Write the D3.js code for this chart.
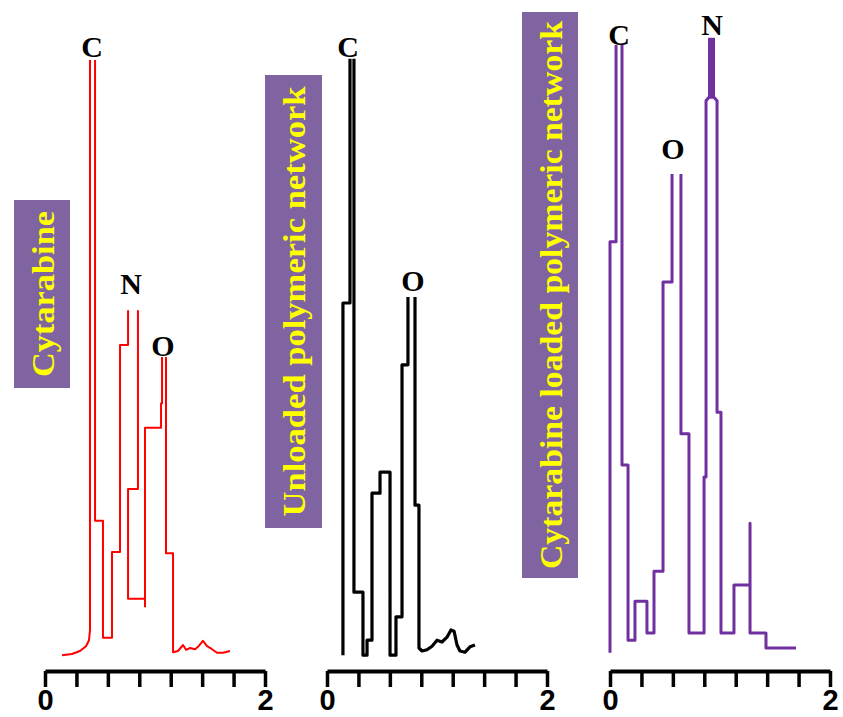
<!DOCTYPE html>
<html>
<head>
<meta charset="utf-8">
<script src="https://cdn.jsdelivr.net/npm/d3@7"></script>
<style>
  body { margin: 0; background: #fff; }
  svg { display: block; }
</style>
</head>
<body>
<svg id="chart" width="843" height="717"></svg>
<script>
// EDS traces: x in keV, y in arbitrary counts (0..100 ~ tallest peak)
// every trace is a list of segments, a new segment wherever the drawn line breaks
const cytarabineTrace = [
  [[0.155, 0.8], [0.245, 1.0], [0.318, 1.5], [0.373, 2.3], [0.4, 3.3], [0.409, 5], [0.409, 100]],
  [[0.455, 100], [0.455, 23.2], [0.527, 23.2], [0.527, 3.7], [0.609, 3.7], [0.609, 18], [0.682, 18],
   [0.682, 52.5], [0.755, 52.5], [0.755, 58.3]],
  [[0.845, 58.3], [0.845, 28.5], [0.755, 28.5], [0.755, 10.2], [0.909, 10.2], [0.909, 8.8]],
  [[0.909, 10.2], [0.909, 38.7], [1.055, 38.7], [1.055, 42.8], [1.064, 42.8], [1.064, 50.5]],
  [[1.1, 50.5], [1.1, 17.8], [1.164, 17.8], [1.164, 1.3], [1.209, 1.5], [1.255, 2.5], [1.282, 1.7],
   [1.318, 2.0], [1.364, 1.8], [1.391, 2.2], [1.436, 3.2], [1.473, 2.3], [1.518, 1.8], [1.564, 1.2],
   [1.618, 1.2], [1.682, 1.5]]
];

const unloadedTrace = [
  [[0.145, 0.8], [0.145, 59.5], [0.209, 59.5], [0.209, 100.2]],
  [[0.245, 100.2], [0.245, 11.3], [0.327, 11.3], [0.327, 0.8], [0.364, 0.8], [0.364, 3.3], [0.409, 3.3],
   [0.409, 27.8], [0.482, 27.8], [0.482, 31.3], [0.573, 31.3], [0.573, 0.8], [0.627, 0.8], [0.627, 7.2],
   [0.682, 7.2], [0.682, 49.2], [0.736, 49.2], [0.736, 60.5]],
  [[0.8, 60.5], [0.8, 25.8], [0.836, 25.8], [0.836, 2.0], [0.864, 1.5], [0.909, 1.7], [0.955, 2.3],
   [1.0, 3.3], [1.045, 3.0], [1.091, 3.8], [1.127, 5.0], [1.155, 4.8], [1.182, 2.5], [1.209, 1.5],
   [1.255, 1.3], [1.3, 2.2], [1.345, 2.5]]
];

const loadedTrace = [
  [[0, 1.2], [0, 69.7], [0.055, 69.7], [0.055, 102.5]],
  [[0.109, 102.5], [0.109, 32.5], [0.164, 32.5], [0.164, 3.3], [0.227, 3.3], [0.227, 9.8], [0.336, 9.8],
   [0.336, 4.5], [0.4, 4.5], [0.4, 14.8], [0.482, 14.8], [0.482, 63], [0.564, 63], [0.564, 81]],
  [[0.645, 81], [0.645, 37.7], [0.718, 37.7], [0.718, 4.5], [0.855, 4.5], [0.855, 30.5], [0.873, 30.5],
   [0.873, 93.2], [0.9, 93.8], [0.945, 93.8], [0.973, 93.2], [0.973, 41.3], [1.009, 41.3], [1.009, 4.5],
   [1.127, 4.5], [1.127, 12.5], [1.273, 12.5], [1.273, 22.8], [1.273, 4.5], [1.418, 4.5], [1.418, 2.0],
   [1.691, 2.0]]
];
// the clipped N peak of the loaded network is drawn as a heavy bar
const loadedNCap = [[0.923, 93.8], [0.923, 103.7]];

const cytarabineLabels = [['C', 0.427, 102.2], ['N', 0.782, 62.8], ['O', 1.073, 52.5]];
const unloadedLabels = [['C', 0.191, 102.3], ['O', 0.782, 63.2]];
const loadedLabels = [['C', 0.082, 104.3], ['O', 0.573, 85.3], ['N', 0.927, 106]];

const sampleNames = ['Cytarabine', 'Unloaded polymeric network', 'Cytarabine loaded polymeric network'];
const xDomain = [0, 2];
const tickValues = d3.range(8).map(i => i * 2 / 7);

const panels = [
  { name: sampleNames[0], trace: cytarabineTrace, labels: cytarabineLabels, color: '#ff0000', lineWidth: 2,
    left: 45, box: { x: 14, y: 200, w: 56, h: 188, len: 166 } },
  { name: sampleNames[1], trace: unloadedTrace, labels: unloadedLabels, color: '#000000', lineWidth: 3.2,
    left: 327, box: { x: 265, y: 75, w: 57, h: 453, len: 430 } },
  { name: sampleNames[2], trace: loadedTrace, labels: loadedLabels, color: '#7030a0', lineWidth: 3,
    left: 610, box: { x: 522, y: 12, w: 56, h: 566, len: 548 } }
];

const panelWidth = 220;
const axisY = 671;

const svg = d3.select('#chart');
svg.append('rect').attr('width', 843).attr('height', 717).attr('fill', '#fff');

const y = d3.scaleLinear().domain([0, 100]).range([660, 60]);

panels.forEach((p) => {
  const x = d3.scaleLinear().domain(xDomain).range([p.left, p.left + panelWidth]);

  // sample name box
  svg.append('rect')
    .attr('x', p.box.x).attr('y', p.box.y)
    .attr('width', p.box.w).attr('height', p.box.h)
    .attr('fill', '#8064a2');
  const cx = p.box.x + p.box.w / 2 + 1;
  const cy = p.box.y + p.box.h / 2;
  svg.append('text')
    .attr('transform', `translate(${cx},${cy}) rotate(-90)`)
    .attr('text-anchor', 'middle')
    .attr('dominant-baseline', 'central')
    .attr('textLength', p.box.len)
    .attr('lengthAdjust', 'spacingAndGlyphs')
    .style('font-family', '"Liberation Serif", "DejaVu Serif", serif')
    .style('font-weight', 'bold')
    .style('font-size', '31px')
    .attr('fill', '#ffff00')
    .text(p.name);

  // trace
  const line = d3.line()
    .x(d => x(d[0]))
    .y(d => y(d[1]));

  svg.append('g').selectAll('path')
    .data(p.trace)
    .enter()
    .append('path')
    .attr('d', line)
    .attr('fill', 'none')
    .attr('stroke', p.color)
    .attr('stroke-width', p.lineWidth)
    .attr('stroke-linejoin', 'round');

  if (p.trace === loadedTrace) {
    svg.append('path')
      .attr('d', line(loadedNCap))
      .attr('fill', 'none')
      .attr('stroke', p.color)
      .attr('stroke-width', 7);
  }

  // element labels
  svg.append('g').selectAll('text')
    .data(p.labels)
    .enter()
    .append('text')
    .attr('x', d => x(d[1]))
    .attr('y', d => y(d[2]))
    .attr('text-anchor', 'middle')
    .attr('dominant-baseline', 'central')
    .style('font-family', '"Liberation Serif", "DejaVu Serif", serif')
    .style('font-weight', 'bold')
    .style('font-size', '30px')
    .attr('fill', '#000')
    .text(d => d[0]);

  // x axis
  const axis = d3.axisBottom(x)
    .tickValues(tickValues)
    .tickSize(16)
    .tickSizeOuter(0)
    .tickPadding(2)
    .tickFormat(d => (d === 0 || d === 2) ? d : '');

  const g = svg.append('g')
    .attr('transform', `translate(0,${axisY})`)
    .call(axis);
  g.select('.domain').attr('stroke', '#000').attr('stroke-width', 4);
  g.selectAll('.tick line').attr('stroke', '#000').attr('stroke-width', 3.5);
  g.selectAll('.tick text')
    .attr('fill', '#000')
    .style('font-family', '"Liberation Sans Narrow", "Liberation Sans", sans-serif')
    .style('font-weight', 'bold')
    .style('font-size', '29px');
});
</script>
</body>
</html>
